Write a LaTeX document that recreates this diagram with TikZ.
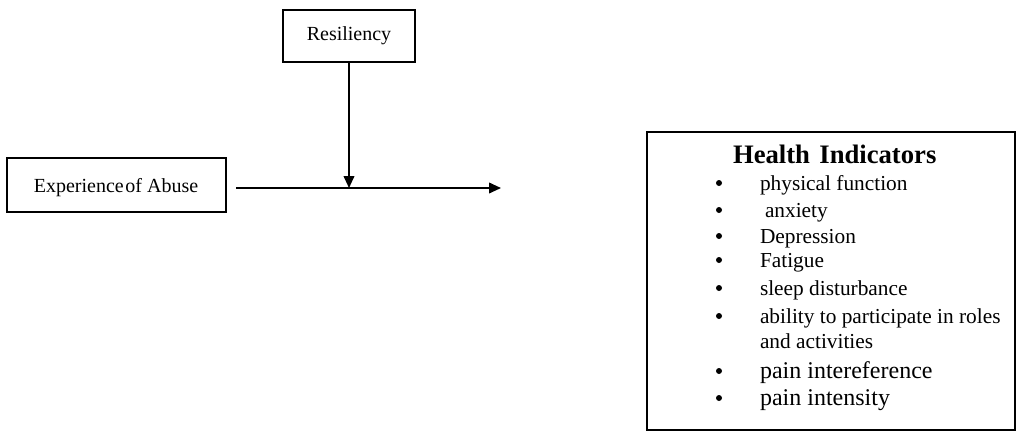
\documentclass[tikz,border=0pt]{standalone}
\usepackage{fontspec}
\setmainfont{Liberation Serif}
\usetikzlibrary{arrows.meta}
\begin{document}
\begin{tikzpicture}[x=0.75pt,y=-0.75pt,
  boxline/.style={draw=black,line width=1.3pt},
  conn/.style={line width=1.3pt,-{Triangle[length=9pt,width=8pt]}},
  txt/.style={anchor=base west,inner sep=0pt,outer sep=0pt},
  item/.style={txt,font=\fontsize{16}{19}\selectfont},
  bigitem/.style={txt,font=\fontsize{18}{21}\selectfont},
  bul/.style={fill=black,circle,inner sep=0pt,minimum size=4.5pt}]
\useasboundingbox (0,0) rectangle (1017,433);
% boxes
\draw[boxline] (283,10) rectangle (415,62);
\node[txt,anchor=base,font=\fontsize{15}{18}\selectfont] (res) at (349,40) {Resiliency};
\draw[boxline] (7,158) rectangle (226,212);
\node[txt,anchor=base,font=\fontsize{15}{18}\selectfont] (abuse) at (116,192) {Experience\hspace{0.08em}of Abuse};
\draw[boxline] (647,132) rectangle (1015,430);
\node[txt,anchor=base west,font=\bfseries\fontsize{20}{24}\selectfont] (health) at (733,163) {Health\hspace{0.35em}Indicators};
% connectors
\coordinate (hs) at (236,188);
\coordinate (he) at (501,188);
\coordinate (mid) at (349,188);
\coordinate (rbot) at (349,62);
\draw[conn] (hs) -- (he);
\draw[conn] (rbot) -- (mid);
% list
\foreach \y [count=\k] in {190,217,243,267,295,323,378,405}{\node[bul] (b\k) at (719,\y-7) {};}
\node[item] (i1) at (760,190) {physical function};
\node[item] (i2) at (765,217) {anxiety};
\node[item] (i3) at (760,243) {Depression};
\node[item] (i4) at (760,267) {Fatigue};
\node[item] (i5) at (760,295) {sleep disturbance};
\node[item] (i6) at (760,323) {ability to participate in roles};
\node[item] (i6b) at (760,348) {and activities};
\node[bigitem] (i7) at (760,378) {pain intereference};
\node[bigitem] (i8) at (760,405) {pain intensity};
\end{tikzpicture}
\end{document}
